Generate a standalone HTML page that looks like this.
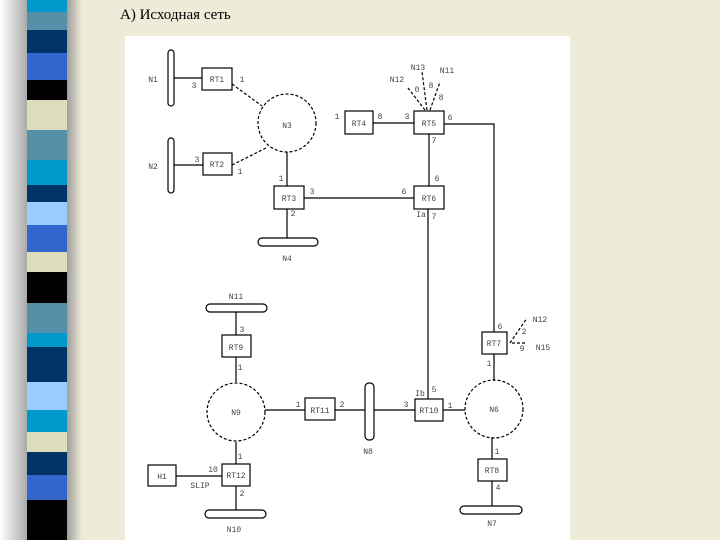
<!DOCTYPE html>
<html><head><meta charset="utf-8"><style>
body{margin:0;width:720px;height:540px;background:#EEEBD8;position:relative;overflow:hidden;font-family:"Liberation Serif",serif}
.s{position:absolute;left:27px;width:40px}
</style></head><body>
<div style="position:absolute;left:0;top:0;width:27px;height:540px;background:linear-gradient(90deg,#fff,#aaa)"></div>
<div style="position:absolute;left:66px;top:0;width:16px;height:540px;background:linear-gradient(90deg,#999,#EEEBD8)"></div>
<div class="s" style="top:0;height:12px;background:#0099CC"></div>
<div class="s" style="top:12px;height:18px;background:#5590A8"></div>
<div class="s" style="top:30px;height:23px;background:#003366"></div>
<div class="s" style="top:53px;height:27px;background:#3366CC"></div>
<div class="s" style="top:80px;height:20px;background:#000"></div>
<div class="s" style="top:100px;height:30px;background:#DDDDBB"></div>
<div class="s" style="top:130px;height:30px;background:#5590A8"></div>
<div class="s" style="top:160px;height:25px;background:#0099CC"></div>
<div class="s" style="top:185px;height:17px;background:#003366"></div>
<div class="s" style="top:202px;height:23px;background:#99CCFF"></div>
<div class="s" style="top:225px;height:27px;background:#3366CC"></div>
<div class="s" style="top:252px;height:20px;background:#DDDDBB"></div>
<div class="s" style="top:272px;height:31px;background:#000"></div>
<div class="s" style="top:303px;height:30px;background:#5590A8"></div>
<div class="s" style="top:333px;height:14px;background:#0099CC"></div>
<div class="s" style="top:347px;height:35px;background:#003366"></div>
<div class="s" style="top:382px;height:28px;background:#99CCFF"></div>
<div class="s" style="top:410px;height:22px;background:#0099CC"></div>
<div class="s" style="top:432px;height:20px;background:#DDDDBB"></div>
<div class="s" style="top:452px;height:23px;background:#003366"></div>
<div class="s" style="top:475px;height:25px;background:#3366CC"></div>
<div class="s" style="top:500px;height:40px;background:#000"></div>
<div style="position:absolute;left:120px;top:7px;font-size:15px;color:#000">А) Исходная сеть</div>
<svg style="position:absolute;left:0;top:0" width="720" height="540">
<rect x="125" y="36" width="445" height="504" fill="#fff"/>
<g stroke="#000" stroke-width="1.2" fill="none">
<rect x="168" y="50" width="6" height="56" rx="3"/>
<rect x="168" y="138" width="6" height="55" rx="3"/>
<rect x="258" y="238" width="60" height="8" rx="4"/>
<rect x="206" y="304" width="61" height="8" rx="4"/>
<rect x="365" y="383" width="9" height="57" rx="4"/>
<rect x="460" y="506" width="62" height="8" rx="4"/>
<rect x="205" y="510" width="61" height="8" rx="4"/>
<rect x="202" y="68" width="30" height="22"/>
<rect x="203" y="153" width="29" height="22"/>
<rect x="274" y="186" width="30" height="23"/>
<rect x="345" y="111" width="28" height="23"/>
<rect x="414" y="111" width="30" height="23"/>
<rect x="414" y="186" width="30" height="23"/>
<rect x="222" y="335" width="29" height="22"/>
<rect x="305" y="398" width="30" height="22"/>
<rect x="415" y="399" width="28" height="22"/>
<rect x="482" y="332" width="25" height="22"/>
<rect x="478" y="459" width="29" height="22"/>
<rect x="222" y="464" width="28" height="22"/>
<rect x="148" y="465" width="28" height="21"/>
<path d="M174 78H202M174 165H203M287 152V186M304 198H414M287 209V238M373 123H414M444 124H494V332M429 134V186M428 209V399M236 312V335M236 357V382M265 410H305M335 410H365M374 410H415M443 410H465M494 354V381M492 437V459M492 481V506M236 442V464M176 476H222M236 486V510"/>
<g stroke-dasharray="3,2">
<circle cx="287" cy="123" r="29"/>
<circle cx="236" cy="412" r="29"/>
<circle cx="494" cy="409" r="29"/>
<path d="M232 84L262 106M232 165L268 147M425 110L408 88M427 110L422 72M430 110L440 82M510 343L527 318M512 343H526"/>
</g></g>
<g font-family="Liberation Mono,monospace" font-size="8" fill="#444" text-anchor="middle">
<text x="153" y="82">N1</text><text x="194" y="88">3</text><text x="217" y="82">RT1</text><text x="242" y="82">1</text>
<text x="287" y="128">N3</text>
<text x="153" y="169">N2</text><text x="197" y="162">3</text><text x="217" y="167">RT2</text><text x="240" y="174">1</text>
<text x="281" y="181">1</text><text x="289" y="201">RT3</text><text x="312" y="194">3</text><text x="293" y="216">2</text>
<text x="287" y="261">N4</text>
<text x="337" y="119">1</text><text x="359" y="126">RT4</text><text x="380" y="119">8</text>
<text x="407" y="119">3</text><text x="429" y="126">RT5</text><text x="450" y="120">6</text><text x="434" y="143">7</text>
<text x="404" y="194">6</text><text x="437" y="181">6</text><text x="429" y="201">RT6</text><text x="421" y="217">Ia</text><text x="434" y="219">7</text>
<text x="397" y="82">N12</text><text x="418" y="70">N13</text><text x="447" y="73">N11</text>
<text x="417" y="92">0</text><text x="431" y="88">8</text><text x="441" y="100">8</text>
<text x="236" y="299">N11</text><text x="242" y="332">3</text><text x="236" y="350">RT9</text><text x="240" y="370">1</text>
<text x="236" y="415">N9</text>
<text x="298" y="407">1</text><text x="320" y="413">RT11</text><text x="342" y="407">2</text>
<text x="368" y="454">N8</text>
<text x="406" y="407">3</text><text x="429" y="413">RT10</text><text x="450" y="408">1</text><text x="420" y="396">Ib</text><text x="434" y="392">5</text>
<text x="494" y="412">N6</text>
<text x="500" y="329">6</text><text x="494" y="346">RT7</text><text x="489" y="366">1</text>
<text x="540" y="322">N12</text><text x="524" y="334">2</text><text x="522" y="351">9</text><text x="543" y="350">N15</text>
<text x="497" y="454">1</text><text x="492" y="473">RT8</text><text x="498" y="490">4</text>
<text x="492" y="526">N7</text>
<text x="162" y="479">H1</text><text x="213" y="472">10</text><text x="200" y="488">SLIP</text>
<text x="236" y="478">RT12</text><text x="240" y="459">1</text><text x="242" y="496">2</text>
<text x="234" y="532">N10</text>
</g></svg>
</body></html>
